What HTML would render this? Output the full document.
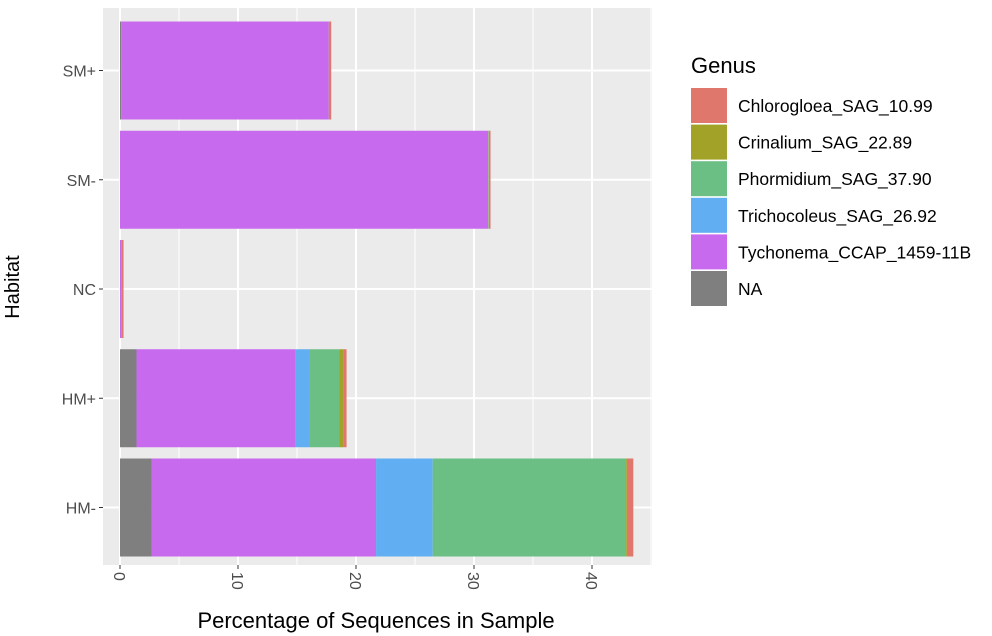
<!DOCTYPE html>
<html><head><meta charset="utf-8"><style>
body{margin:0;background:#fff;}
svg{display:block;font-family:"Liberation Sans",Arial,sans-serif;}
</style></head><body>
<svg id="chart" width="992" height="636" viewBox="0 0 992 636">
<rect x="103" y="8" width="549" height="557" fill="#ebebeb"/>
<g id="grid"></g>
<g id="bars"></g>
<g id="axes"></g>
<text x="376" y="628" font-size="22" text-anchor="middle" fill="#000">Percentage of Sequences in Sample</text>
<text transform="translate(19,287) rotate(-90)" font-size="20" text-anchor="middle" fill="#000">Habitat</text>
<g id="legend">
<text x="691" y="73" font-size="22" fill="#000">Genus</text>
</g>
</svg>
<script>
const categories = ["HM-","HM+","NC","SM-","SM+"];
const genera = ["NA","Tychonema_CCAP_1459-11B","Trichocoleus_SAG_26.92","Phormidium_SAG_37.90","Crinalium_SAG_22.89","Chlorogloea_SAG_10.99"];
const colors = ["#7f7f7f","#c86aee","#61aef2","#6cbf84","#a3a228","#e0776d"];
const naVals    = [2.7, 1.4, 0,    0,    0.1];
const tychoVals = [19.0,13.5,0.15, 31.2, 17.6];
const trichoVals= [4.8, 1.2, 0,    0,    0];
const phormVals = [16.4,2.5, 0,    0.05, 0];
const crinVals  = [0.15,0.35,0,    0,    0.05];
const chloroVals= [0.45,0.25,0.15, 0.15, 0.15];
const xTicks = [0,10,20,30,40];
const legendOrder = [5,4,3,2,1,0];

const NS="http://www.w3.org/2000/svg";
const x0=120, pxPerUnit=11.8, panelL=103, panelR=652, panelT=8, panelB=565;
const xs = v => x0 + v*pxPerUnit;
const yCenter = i => 507.5 - i*109.25;
const barH = 98;
function mk(tag, attrs, parent){const e=document.createElementNS(NS,tag);for(const k in attrs)e.setAttribute(k,attrs[k]);parent.appendChild(e);return e;}
const grid=document.getElementById('grid'), bars=document.getElementById('bars'), axes=document.getElementById('axes'), legend=document.getElementById('legend');
for(let v=5; xs(v)<panelR; v+=10){const l=mk('line',{x1:xs(v),x2:xs(v),y1:panelT,y2:panelB,stroke:'#fff','stroke-width':1},grid);

}
xTicks.forEach(v=>{const l=mk('line',{x1:xs(v),x2:xs(v),y1:panelT,y2:panelB,stroke:'#fff','stroke-width':2},grid);

});
categories.forEach((c,i)=>{const l=mk('line',{x1:panelL,x2:panelR,y1:yCenter(i),y2:yCenter(i),stroke:'#fff','stroke-width':2},grid);

});
const series=[naVals,tychoVals,trichoVals,phormVals,crinVals,chloroVals];
categories.forEach((c,i)=>{
  let acc=0;
  series.forEach((s,g)=>{
    const v=s[i]; if(v<=0) return;
    const r=mk('rect',{x:xs(acc),y:yCenter(i)-barH/2,width:v*pxPerUnit,height:barH,fill:colors[g]},bars);
    
    
    acc+=v;
  });
  const t=mk('text',{x:96,y:yCenter(i)+6,'font-size':16,'text-anchor':'end',fill:'#4d4d4d'},axes);
  t.textContent=c;
  
  
  const tk=mk('line',{x1:99,x2:103,y1:yCenter(i),y2:yCenter(i),stroke:'#333','stroke-width':1},axes);
  
  
});
xTicks.forEach(v=>{
  const tk=mk('line',{x1:xs(v),x2:xs(v),y1:565,y2:569,stroke:'#333','stroke-width':1},axes);
  
  
  const t=mk('text',{transform:`translate(${xs(v)-6},572) rotate(90)`,'font-size':16,fill:'#4d4d4d'},axes);
  t.textContent=v;
  
  
});
legendOrder.forEach((g,k)=>{
  const y=88+k*36.6;
  const r=mk('rect',{x:691,y:y,width:36,height:35,fill:colors[g]},legend);
  
  
  const t=mk('text',{x:738,y:y+24,'font-size':17.5,fill:'#000'},legend);
  t.textContent=genera[g];
  
  
});
</script>
</body></html>
